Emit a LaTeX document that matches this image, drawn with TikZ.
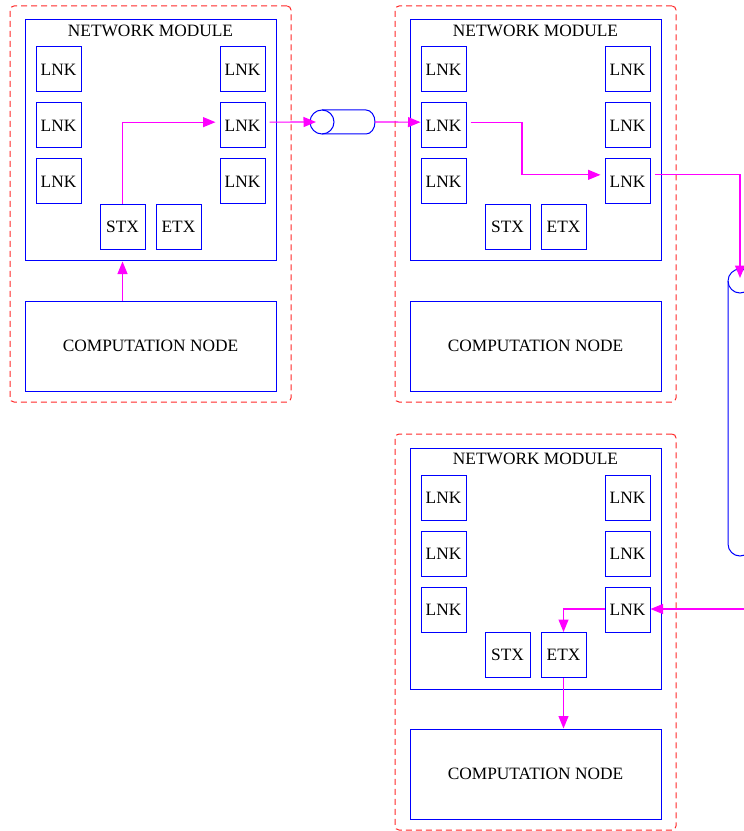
\documentclass[tikz,border=0pt]{standalone}
\usepackage{fontspec}
\setmainfont{Liberation Serif}
\usetikzlibrary{arrows.meta}
\definecolor{flowpink}{RGB}{255,0,255}
\definecolor{framered}{RGB}{255,40,40}

\begin{document}
\begin{tikzpicture}
	[x=0.6pt,y=-0.6pt,every node/.style={draw=blue,line width=0.6pt,inner sep=0pt,font=\fontsize{10.4}{12}\selectfont},
	box/.style={minimum width=27pt,minimum height=27pt},
	frame/.style={draw=framered,dash pattern=on 3.6pt off 2.4pt,rounded corners=2.4pt,minimum width=168.6pt,minimum height=237.6pt},
	net/.style={minimum width=150.6pt,minimum height=144.6pt},
	comp/.style={minimum width=150.6pt,minimum height=54pt},
	cable/.style={draw=blue,line width=0.6pt},
	flow/.style={draw=flowpink,line width=0.7pt,-{Triangle[length=7.5pt,width=6pt]}}]
	\useasboundingbox (0,0) rectangle (743,831);
	% three modules, same layout
	\foreach \m/\dx/\dy in {1/0/0,2/385/0,3/385/428}{
		\begin{scope}[shift={(\dx,\dy)}]
			\node[frame] (mod\m) at (150.5,204) {};
			\node[net] (net\m) at (150.5,140.5) {};
			\node[draw=none,anchor=north] (ttl\m) at (150.5,25) {NETWORK MODULE};
			\node[box] (la\m) at (58.5,69.5) {LNK};
			\node[box] (lb\m) at (58.5,125.5) {LNK};
			\node[box] (lc\m) at (58.5,181.5) {LNK};
			\node[box] (ra\m) at (242.5,69.5) {LNK};
			\node[box] (rb\m) at (242.5,125.5) {LNK};
			\node[box] (rc\m) at (242.5,181.5) {LNK};
			\node[box] (stx\m) at (122.5,227) {STX};
			\node[box] (etx\m) at (178.5,227) {ETX};
			\node[comp] (comp\m) at (150.5,346) {COMPUTATION NODE};
		\end{scope}}
	% cables between modules
	\draw[cable] (322,122) circle[radius=7.2pt];
	\draw[cable] (322,110) -- (366,110) arc[start angle=90,end angle=-90,x radius=5.4pt,y radius=7.2pt] -- (322,134);
	\draw[cable] (740,281) circle[radius=7.2pt];
	\draw[cable] (728,281) -- (728,544) arc[start angle=180,end angle=360,radius=7.2pt] -- (752,281);
	\coordinate (cab1in) at (316,122);
	\coordinate (cab1out) at (375,122);
	\coordinate (cab2in) at (740,278);
	\coordinate (bend2) at (522,150);
	\coordinate (in3) at (745,609);
	% module 1
	\draw[flow] (comp1.north -| stx1) -- (net1.south -| stx1);
	\draw[flow,shorten >=2.4pt] (stx1.north) |- ([yshift=2pt]rb1.west);
	\draw[flow,shorten <=2.4pt] ([yshift=2pt]rb1.east) -- (cab1in);
	\draw[flow] (cab1out) -- ([yshift=2pt]lb2.west);
	% module 2
	\draw[flow,shorten <=2.4pt,shorten >=2.4pt] ([yshift=2pt]lb2.east) -| (bend2) |- ([yshift=4pt]rc2.west);
	\draw[flow,shorten <=2.4pt] ([yshift=4pt]rc2.east) -| (cab2in);
	% module 3
	\draw[flow] (in3) -- (in3 -| rc3.east);
	\draw[flow] (in3 -| rc3.west) -| (etx3.north);
	\draw[flow] (etx3.south) -- (etx3.south |- comp3.north);
\end{tikzpicture}
\end{document}
